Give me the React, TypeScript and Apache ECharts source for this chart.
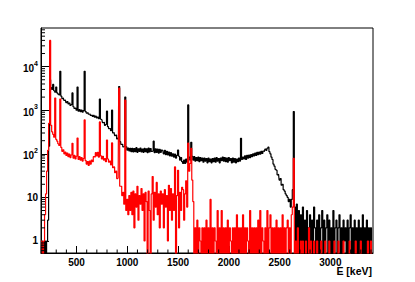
import React, { useEffect, useRef } from "react";
import * as echarts from "echarts";

// Histogram binning (keV): centre of first bin and bin width
const BIN_START = 150;
const BIN_WIDTH = 10;

// Counts per bin, black spectrum (150 ... 3410 keV)
const blackCounts = [
  0, 1, 0, 0, 1, 0, 1, 3, 150, 5000,
  3300, 3000, 3900, 2800, 2600, 3400, 2500, 2350, 2250, 7800,
  2100, 1850, 1920, 1680, 1740, 1500, 1580, 1400, 1460, 1290,
  1340, 2500, 1200, 1100, 1120, 1000, 3400, 950, 1040, 930,
  1000, 900, 980, 7800, 930, 860, 880, 810, 820, 760,
  780, 720, 760, 690, 730, 670, 700, 640, 1800, 620,
  600, 520, 530, 450, 470, 950, 420, 380, 380, 340,
  1000, 300, 310, 260, 270, 220, 230, 3500, 190, 165,
  165, 145, 148, 2000, 145, 122, 136, 116, 134, 112,
  134, 110, 132, 112, 138, 108, 130, 114, 136, 110,
  128, 108, 134, 112, 130, 106, 136, 110, 132, 114,
  116, 195, 106, 130, 108, 128, 104, 126, 108, 122,
  118, 100, 120, 96, 114, 94, 110, 90, 106, 88,
  100, 84, 98, 80, 92, 122, 88, 72, 82, 66,
  60, 72, 60, 76, 64, 1320, 84, 72, 183, 88,
  72, 86, 68, 82, 70, 84, 66, 82, 70, 80,
  64, 80, 68, 78, 62, 80, 66, 76, 62, 78,
  66, 80, 64, 82, 68, 78, 62, 80, 70, 84,
  68, 82, 66, 80, 64, 82, 70, 78, 62, 80,
  64, 78, 62, 76, 66, 80, 68, 227, 74, 84,
  76, 90, 74, 92, 80, 94, 82, 96, 86, 100,
  90, 104, 92, 108, 96, 110, 98, 114, 102, 116,
  112, 128, 120, 134, 142, 112, 100, 84, 74, 58,
  52, 44, 42, 33, 34, 25, 27, 19, 20, 15,
  14, 12, 11, 10, 8, 9, 6, 9, 15, 930,
  6, 0, 7, 1, 5, 0, 4, 0, 6, 0,
  3, 0, 5, 0, 2, 4, 0, 3, 0, 6,
  2, 0, 3, 0, 4, 0, 2, 5, 0, 3,
  0, 2, 4, 0, 3, 0, 2, 0, 5, 0,
  2, 3, 0, 2, 4, 0, 2, 0, 3, 1,
  2, 0, 3, 0, 2, 4, 0, 2, 0, 3,
  0, 2, 0, 3, 0, 2, 0, 4, 0, 2,
  0, 3, 0, 2, 0, 2, 0,
];

// Counts per bin, red spectrum (150 ... 3410 keV)
const redCounts = [
  1, 1, 0, 1, 4, 12, 40, 120, 500, 40000,
  450, 320, 280, 240, 1900, 215, 195, 170, 155, 1800,
  140, 114, 124, 100, 110, 92, 104, 86, 98, 82,
  94, 174, 80, 92, 76, 88, 230, 74, 86, 72,
  82, 68, 78, 600, 70, 58, 66, 54, 68, 58,
  72, 66, 86, 84, 106, 90, 108, 84, 540, 90,
  76, 88, 72, 78, 66, 207, 76, 64, 68, 56,
  178, 48, 50, 37, 40, 27, 28, 3200, 18, 18,
  11, 13, 7, 1700, 5, 9, 4, 11, 5, 13,
  4, 14, 2, 12, 6, 18, 3, 11, 7, 16,
  5, 12, 1, 13, 8, 0, 14, 5, 0, 12,
  30, 3, 13, 6, 22, 4, 12, 2, 14, 7,
  12, 2, 15, 6, 11, 1, 19, 5, 16, 3,
  12, 5, 50, 0, 11, 42, 2, 13, 5, 17,
  15, 3, 12, 24, 6, 175, 40, 60, 134, 25,
  8, 0, 2, 0, 3, 0, 2, 1, 0, 2,
  0, 2, 0, 3, 0, 2, 0, 9, 0, 2,
  0, 2, 1, 0, 5, 0, 2, 0, 5, 0,
  2, 0, 2, 0, 3, 0, 2, 1, 0, 2,
  0, 2, 0, 4, 0, 2, 0, 2, 0, 4,
  0, 2, 0, 2, 1, 0, 5, 0, 2, 0,
  2, 0, 2, 0, 3, 0, 5, 0, 2, 1,
  0, 2, 0, 5, 0, 2, 4, 0, 2, 0,
  2, 0, 3, 0, 2, 0, 2, 0, 4, 0,
  2, 0, 2, 3, 0, 2, 0, 4, 6, 79,
  0, 1, 0, 2, 0, 0, 1, 0, 1, 0,
  0, 1, 0, 0, 2, 0, 1, 0, 0, 1,
  0, 0, 1, 0, 0, 0, 1, 0, 0, 0,
  1, 0, 0, 0, 1, 0, 0, 0, 0, 1,
  0, 0, 0, 1, 0, 0, 0, 0, 1, 0,
  0, 0, 0, 0, 1, 0, 0, 0, 0, 0,
  1, 0, 0, 0, 0, 1, 0, 0, 0, 0,
  0, 0, 1, 0, 0, 1, 0,
];

// Axis ticks
const xMajorTicks = [500, 1000, 1500, 2000, 2500, 3000];
const xMinorTicks = [
  200, 300, 400, 600, 700, 800, 900, 1100, 1200, 1300, 1400, 1600, 1700, 1800, 1900,
  2100, 2200, 2300, 2400, 2600, 2700, 2800, 2900, 3100, 3200, 3300, 3400,
];
const yMajorTicks = [1, 10, 100, 1000, 10000];
const yMinorTicks = [
  0.6, 0.7, 0.8, 0.9,
  2, 3, 4, 5, 6, 7, 8, 9,
  20, 30, 40, 50, 60, 70, 80, 90,
  200, 300, 400, 500, 600, 700, 800, 900,
  2000, 3000, 4000, 5000, 6000, 7000, 8000, 9000,
  20000, 30000, 40000, 50000, 60000, 70000,
];

const X_TITLE = "E [keV]";
const X_MIN = 150;
const X_MAX = 3420;
const Y_MIN = 0.53;
const Y_MAX = 77000;
const ZERO_FLOOR = 0.3; // empty bins are drawn down to (and clipped at) the frame bottom

const FONT = '"Liberation Sans", Arial, Helvetica, sans-serif';

function toSeries(counts: number[]) {
  return counts.map((c, i) => [BIN_START + i * BIN_WIDTH, c > 0 ? c : ZERO_FLOOR]);
}

function yLabel(v: number) {
  const e = Math.round(Math.log10(v));
  if (e <= 1) return String(Math.round(v));
  return "{b|10}{s|" + e + "}";
}

export default function App() {
  const ref = useRef<HTMLDivElement>(null);
  useEffect(() => {
    if (!ref.current) return;
    const chart = echarts.init(ref.current, undefined, { renderer: "svg" });
    const option: any = {
      animation: false,
      backgroundColor: "#ffffff",
      grid: {
        left: 41,
        right: 42,
        top: 28,
        bottom: 29,
        show: true,
        borderColor: "#000",
        borderWidth: 1,
        backgroundColor: "transparent",
      },
      graphic: [
        {
          type: "text",
          right: 43,
          top: 265,
          style: {
            text: X_TITLE,
            fill: "#000",
            fontFamily: FONT,
            fontWeight: "bold",
            fontSize: 10.5,
          },
        },
      ],
      xAxis: {
        type: "value",
        min: X_MIN,
        max: X_MAX,
        axisLine: { show: true, lineStyle: { color: "#000", width: 1 } },
        axisTick: {
          show: true,
          inside: true,
          length: 7,
          customValues: xMajorTicks,
          lineStyle: { color: "#000", width: 1 },
        },
        axisLabel: {
          customValues: xMajorTicks,
          margin: 4,
          color: "#000",
          fontFamily: FONT,
          fontWeight: "bold",
          fontSize: 10,
          formatter: (v: number) => String(v),
        },
        splitLine: { show: false },
      },
      yAxis: {
        type: "log",
        logBase: 10,
        min: Y_MIN,
        max: Y_MAX,
        axisLine: { show: true, lineStyle: { color: "#000", width: 1 } },
        axisTick: {
          show: true,
          inside: true,
          length: 8,
          customValues: yMajorTicks,
          lineStyle: { color: "#000", width: 1 },
        },
        axisLabel: {
          customValues: yMajorTicks,
          margin: 3,
          color: "#000",
          fontFamily: FONT,
          fontWeight: "bold",
          fontSize: 10,
          formatter: yLabel,
          rich: {
            b: {
              fontFamily: FONT,
              fontWeight: "bold",
              fontSize: 10,
              color: "#000",
              lineHeight: 14,
              verticalAlign: "bottom",
            },
            s: {
              fontFamily: FONT,
              fontWeight: "bold",
              fontSize: 7,
              color: "#000",
              lineHeight: 7,
              verticalAlign: "top",
            },
          },
        },
        splitLine: { show: false },
      },
      series: [
        {
          name: "black",
          type: "line",
          data: toSeries(blackCounts),
          step: "middle",
          showSymbol: false,
          symbol: "none",
          silent: true,
          clip: true,
          z: 2,
          lineStyle: { color: "#000000", width: 1.2 },
          itemStyle: { color: "#000000" },
        },
        {
          name: "red",
          type: "line",
          data: toSeries(redCounts),
          step: "middle",
          showSymbol: false,
          symbol: "none",
          silent: true,
          clip: true,
          z: 3,
          lineStyle: { color: "#ff0000", width: 1.2 },
          itemStyle: { color: "#ff0000" },
        },
        {
          name: "xMinor",
          type: "custom",
          silent: true,
          clip: false,
          z: 5,
          data: xMinorTicks.map((e) => [e, 1]),
          renderItem: (params: any, api: any) => {
            const x = api.coord([api.value(0), 1])[0];
            const cs = params.coordSys;
            const yb = cs.y + cs.height;
            return {
              type: "line",
              shape: { x1: x, y1: yb, x2: x, y2: yb - 3.5 },
              style: { stroke: "#000", lineWidth: 1 },
            };
          },
        },
        {
          name: "yMinor",
          type: "custom",
          silent: true,
          clip: false,
          z: 5,
          data: yMinorTicks.map((v) => [X_MIN, v]),
          renderItem: (params: any, api: any) => {
            const y = api.coord([X_MIN, api.value(1)])[1];
            const cs = params.coordSys;
            return {
              type: "line",
              shape: { x1: cs.x, y1: y, x2: cs.x + 4, y2: y },
              style: { stroke: "#000", lineWidth: 1 },
            };
          },
        },
      ],
    };
    chart.setOption(option);
    return () => chart.dispose();
  }, []);
  return (
    <div
      ref={ref}
      style={{ position: "absolute", left: 0, top: 0, width: 415, height: 282, background: "#fff" }}
    />
  );
}
